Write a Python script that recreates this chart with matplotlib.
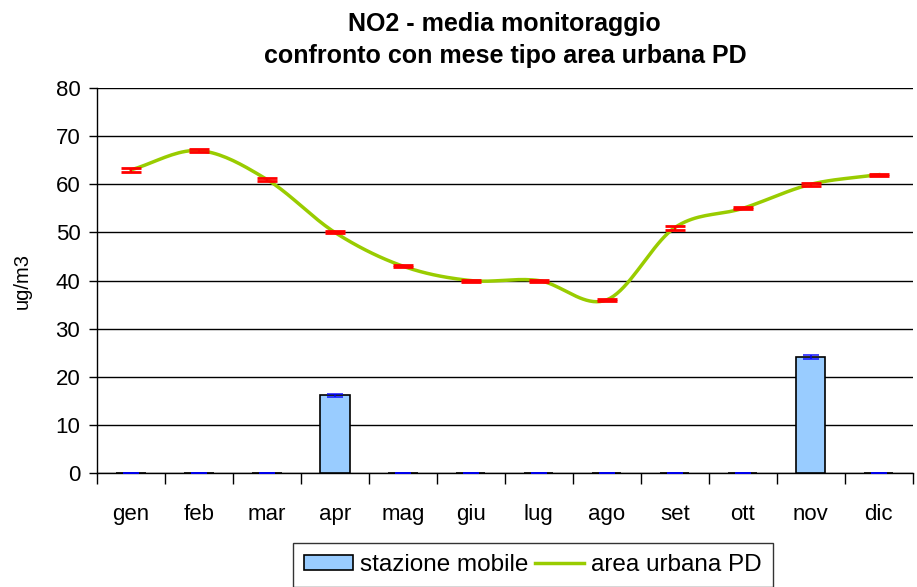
import numpy as np
import matplotlib.pyplot as plt
from matplotlib.lines import Line2D
from matplotlib.patches import Patch

plt.rcParams['font.family'] = ['Liberation Sans', 'DejaVu Sans']

mesi = ['gen', 'feb', 'mar', 'apr', 'mag', 'giu', 'lug', 'ago', 'set', 'ott', 'nov', 'dic']
stazione_mobile = [0, 0, 0, 16.2, 0, 0, 0, 0, 0, 0, 24.2, 0]
err_mobile = [0.05, 0.05, 0.05, 0.3, 0.05, 0.05, 0.05, 0.05, 0.05, 0.05, 0.4, 0.05]
area_urbana = [63, 67, 61, 50, 43, 40, 40, 36, 51, 55, 60, 62]
err_urbana = [0.4, 0.3, 0.4, 0.2, 0.2, 0.2, 0.2, 0.2, 0.4, 0.2, 0.3, 0.2]


def smooth(x, y, n=20):
    # curva smussata tipo Excel (Bezier)
    x = np.asarray(x, float)
    y = np.asarray(y, float)
    px = np.concatenate([[2 * x[0] - x[1]], x, [2 * x[-1] - x[-2]]])
    py = np.concatenate([[2 * y[0] - y[1]], y, [2 * y[-1] - y[-2]]])
    xs, ys = [], []
    t = np.linspace(0, 1, n, endpoint=False)
    for i in range(1, len(px) - 2):
        for p, out in ((px, xs), (py, ys)):
            p0, p1, p2, p3 = p[i - 1], p[i], p[i + 1], p[i + 2]
            c1 = p1 + (p2 - p0) / 6
            c2 = p2 - (p3 - p1) / 6
            out.extend((1 - t) ** 3 * p1 + 3 * (1 - t) ** 2 * t * c1 + 3 * (1 - t) * t ** 2 * c2 + t ** 3 * p2)
    xs.append(x[-1])
    ys.append(y[-1])
    return np.array(xs), np.array(ys)


fig = plt.figure(figsize=(9.17, 5.87), dpi=100)
ax = fig.add_axes([0.1058, 0.194, 0.8895, 0.656])

x = np.arange(len(mesi))
ax.bar(x, stazione_mobile, width=0.43, color='#99CCFF', edgecolor='black', linewidth=1.2, zorder=3)
ax.errorbar(x, stazione_mobile, yerr=err_mobile, fmt='none', ecolor='#0000FF',
            elinewidth=1.2, capsize=6, capthick=1.2, zorder=4, alpha=0.85)

sx, sy = smooth(x, area_urbana)
ax.plot(sx, sy, color='#99CC00', linewidth=2.5, zorder=5)
ax.errorbar(x, area_urbana, yerr=err_urbana, fmt='none', ecolor='#FF0000',
            elinewidth=1.5, capsize=7, capthick=2, zorder=6)

ax.set_xlim(-0.5, 11.5)
ax.set_ylim(0, 80)
ax.set_yticks(range(0, 81, 10))
ax.set_xticks(x)
ax.set_xticklabels(mesi)
ax.set_xticks(np.arange(-0.5, 12, 1), minor=True)
ax.tick_params(axis='x', which='major', length=0, labelsize=16, pad=22)
ax.tick_params(axis='x', which='minor', length=8, width=1, direction='out')
ax.tick_params(axis='y', length=6, width=1, labelsize=16, direction='out', pad=6)
ax.grid(axis='y', color='black', linewidth=1, zorder=0)
ax.set_axisbelow(True)
for side in ['top', 'right']:
    ax.spines[side].set_visible(False)
ax.spines['left'].set_linewidth(1)
ax.spines['bottom'].set_linewidth(1)

ax.set_ylabel('ug/m3', fontsize=14.5, labelpad=17)
ax.set_title('NO2 - media monitoraggio\nconfronto con mese tipo area urbana PD',
             fontsize=18, fontweight='bold', pad=18, linespacing=1.4)

handles = [Patch(facecolor='#99CCFF', edgecolor='black', linewidth=1.2, label='stazione mobile'),
           Line2D([], [], color='#99CC00', linewidth=2.5, label='area urbana PD')]
leg = fig.legend(handles=handles, loc='upper left', bbox_to_anchor=(0.3195, 0.075),
                 ncol=2, fontsize=17.5, frameon=True, fancybox=False, edgecolor='black',
                 handlelength=2.0, handleheight=0.6, columnspacing=0.3, handletextpad=0.3,
                 borderpad=0.45, borderaxespad=0)
leg.get_frame().set_linewidth(1)

fig.savefig('out.png', dpi=100)
